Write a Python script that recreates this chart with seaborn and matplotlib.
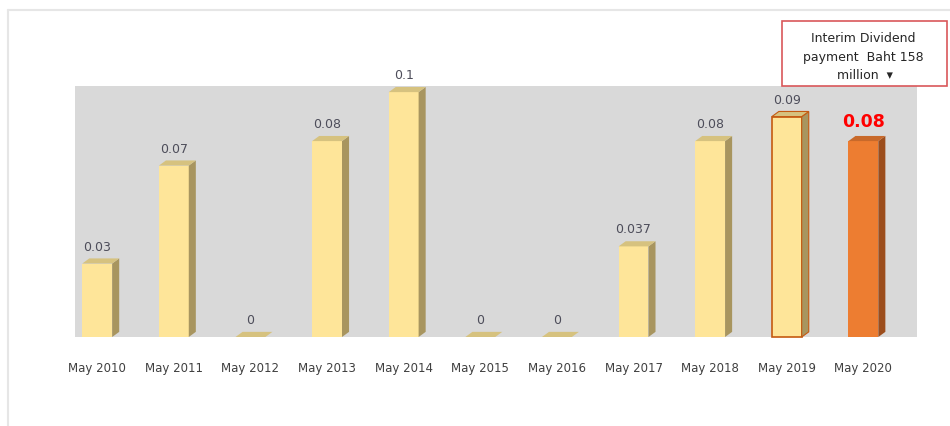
import matplotlib
matplotlib.use("Agg")
import matplotlib.pyplot as plt
from matplotlib.patches import Polygon, Rectangle
from matplotlib.lines import Line2D
import seaborn as sns
import pandas as pd

periods = ["May 2010", "May 2011", "May 2012", "May 2013", "May 2014", "May 2015",
           "May 2016", "May 2017", "May 2018", "May 2019", "May 2020"]
dividend = [0.03, 0.07, 0, 0.08, 0.1, 0, 0, 0.037, 0.08, 0.09, 0.08]
value_labels = ["0.03", "0.07", "0", "0.08", "0.1", "0", "0", "0.037", "0.08", "0.09", "0.08"]
note_text = "Interim Dividend\npayment  Baht 158\n million  \u25be"

df = pd.DataFrame({"period": periods, "dividend": dividend})

sns.set_style("white")
plt.rcParams["font.family"] = ["DejaVu Sans"]

front = "#fee599"
side = "#a8955f"
top = "#d6c27f"
orange = "#ed7d31"
orange_side = "#9c4d1c"
orange_top = "#c8692a"

fig = plt.figure(figsize=(9.5, 4.27), dpi=100)
ax = fig.add_axes([75 / 950, 89 / 427, 842 / 950, 251 / 427])
ax.set_facecolor("#d9d9d9")

colors = [front] * (len(periods) - 1) + [orange]
sns.barplot(data=df, x="period", y="dividend", hue="period", palette=colors,
            legend=False, width=0.39, ax=ax, saturation=1, linewidth=0)

ax.set_xlim(-0.29, 10.70)
ax.set_ylim(0, 0.1025)

bars = list(ax.patches)
dx = 0.092
dy = 0.0021
for i, bar in enumerate(bars):
    x0 = bar.get_x()
    w = bar.get_width()
    h = bar.get_height()
    last = i == len(bars) - 1
    s_col = orange_side if last else side
    t_col = orange_top if last else top
    sp = Polygon([(x0 + w, 0), (x0 + w + dx, dy), (x0 + w + dx, h + dy), (x0 + w, h)],
                 closed=True, facecolor=s_col, edgecolor="none", clip_on=False, zorder=3)
    tp = Polygon([(x0, h), (x0 + dx, h + dy), (x0 + w + dx, h + dy), (x0 + w, h)],
                 closed=True, facecolor=t_col, edgecolor="none", clip_on=False, zorder=3)
    ax.add_patch(sp)
    ax.add_patch(tp)
    bar.set_clip_on(False)
    bar.set_zorder(3)
    bar.set_edgecolor("none")
    if periods[i] == "May 2019":
        bar.set_edgecolor("#c55a11")
        bar.set_linewidth(1.2)
        sp.set_edgecolor("#c55a11")
        sp.set_linewidth(0.8)
        tp.set_edgecolor("#c55a11")
        tp.set_linewidth(0.8)
    if last:
        ax.text(x0 + w / 2, h + 0.0045, value_labels[i], ha="center", va="bottom",
                fontsize=12.5, fontweight="bold", color="#ff0000", zorder=4)
    else:
        ax.text(x0 + w / 2, h + 0.0045, value_labels[i], ha="center", va="bottom",
                fontsize=9, color="#4d4d5a", zorder=4)

ax.set_xlabel("")
ax.set_ylabel("")
ax.set_yticks([])
ax.tick_params(axis="x", length=0, pad=17, labelsize=8.5, labelcolor="#404040")
for s in ax.spines.values():
    s.set_visible(False)

# chart border lines
fig.add_artist(Line2D([8 / 950, 1], [1 - 11 / 427, 1 - 11 / 427], color="#e6e6e6", lw=1.5))
fig.add_artist(Line2D([8 / 950, 8 / 950], [0, 1 - 11 / 427], color="#e6e6e6", lw=1.5))

# note box
fig.add_artist(Rectangle((782 / 950, 1 - 87 / 427), 165 / 950, 65 / 427,
                         transform=fig.transFigure, facecolor="white",
                         edgecolor="#d9575a", lw=1.2))
fig.text(863 / 950, 1 - 57 / 427, note_text, ha="center", va="center", fontsize=9,
         color="#262626", linespacing=1.55)

fig.savefig("out.png", dpi=100)
